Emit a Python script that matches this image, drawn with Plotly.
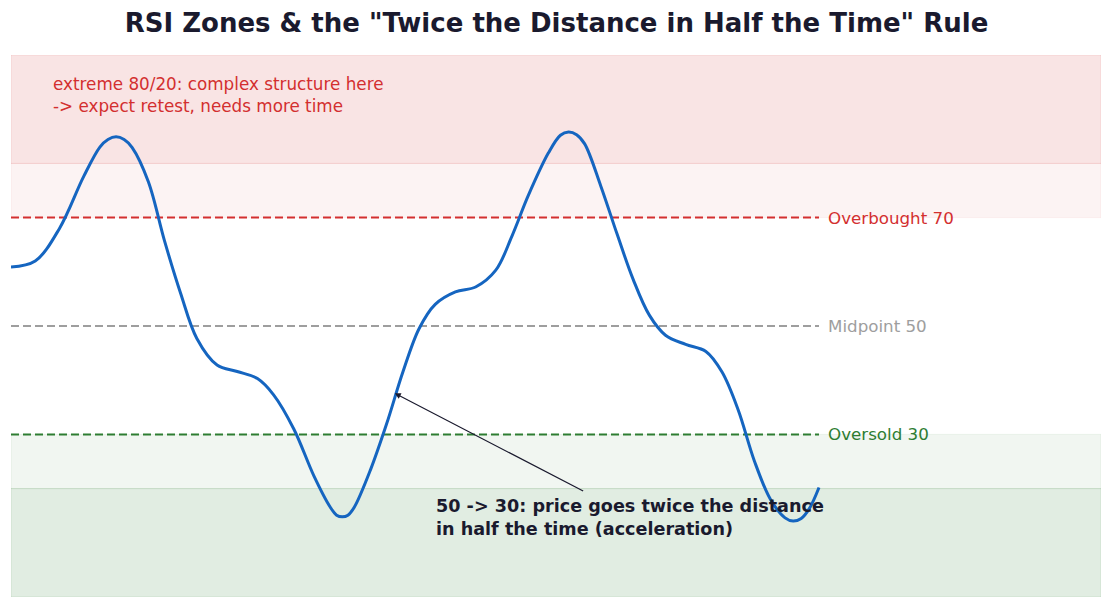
import plotly.graph_objects as go

# RSI curve (key points, drawn with the library's spline)
t = [0, 3, 6, 9, 11, 12, 13, 14, 15, 17, 19, 21, 23, 25.5, 28, 30.5, 32.5, 35, 37.5, 39.5,
     40.3, 41, 41.7, 42.5, 44.5, 46.5, 48.5, 50.5, 52.5, 55, 57.5, 60, 62, 64, 66.5, 68, 69,
     70, 71, 73, 75, 77, 79, 81, 83.5, 86, 88, 90, 92, 94, 95.8, 96.8, 97.8, 98.8, 100]
rsi = [60.9, 62.0, 68.0, 77.6, 83.0, 84.4, 84.9, 84.4, 82.9, 76.6, 65.7, 56.0, 47.7, 42.8,
       41.6, 40.3, 37.3, 31.0, 22.3, 16.6, 15.1, 14.8, 15.1, 16.6, 23.5, 32.0, 41.5, 49.5,
       54.0, 56.3, 57.2, 60.3, 66.6, 74.0, 81.9, 85.2, 85.8, 85.3, 83.6, 75.8, 67.0, 58.6,
       52.0, 48.3, 46.6, 45.3, 41.5, 34.5, 25.1, 18.0, 14.6, 14.0, 14.5, 16.3, 20.2]

levels = [70, 50, 30]
level_labels = ["Overbought 70", "Midpoint 50", "Oversold 30"]
level_colors = ["#d32f2f", "#9e9e9e", "#2e7d32"]

bands = [(80, 100), (70, 80), (20, 30), (0, 20)]
band_fills = ["rgba(211,47,47,0.13)", "rgba(211,47,47,0.06)",
              "rgba(46,125,50,0.065)", "rgba(46,125,50,0.14)"]
band_lines = ["rgba(211,47,47,0.10)", "rgba(211,47,47,0.06)",
              "rgba(46,125,50,0.08)", "rgba(46,125,50,0.12)"]

X_MAX = 134.9
FONT = "DejaVu Sans"

fig = go.Figure()

for (y0, y1), fc, lc in zip(bands, band_fills, band_lines):
    fig.add_shape(type="rect", xref="x", yref="y", x0=0, x1=X_MAX, y0=y0, y1=y1,
                  fillcolor=fc, line=dict(color=lc, width=1), layer="below")

for lv, lab, col in zip(levels, level_labels, level_colors):
    fig.add_trace(go.Scatter(x=[0, 100], y=[lv, lv], mode="lines",
                             line=dict(color=col, width=2, dash="8px,4px"),
                             hoverinfo="skip", showlegend=False))
    fig.add_annotation(x=100.9, y=lv, text=lab, showarrow=False, xanchor="left",
                       yanchor="middle", font=dict(family=FONT, size=16.7, color=col))

fig.add_trace(go.Scatter(x=t, y=rsi, mode="lines",
                         line=dict(color="#1565c0", width=3, shape="spline", smoothing=1.0),
                         showlegend=False))

fig.add_annotation(x=4.9, y=96.8, xanchor="left", yanchor="top", align="left",
                   text="extreme 80/20: complex structure here<br>-> expect retest, needs more time",
                   showarrow=False, font=dict(family=FONT, size=16.8, color="#d32f2f"))

# arrow
fig.add_annotation(x=47.5, y=37.6, ax=71.0, ay=19.4, xref="x", yref="y", axref="x", ayref="y",
                   text="", showarrow=True, arrowhead=2, arrowsize=1, arrowwidth=1.2,
                   arrowcolor="#1a1a2e")
fig.add_annotation(x=52.4, y=19.0, xanchor="left", yanchor="top", align="left",
                   text="<b>50 -> 30: price goes twice the distance<br>in half the time (acceleration)</b>",
                   showarrow=False, font=dict(family=FONT, size=17.6, color="#1a1a2e"))

fig.update_layout(
    width=1113, height=608,
    margin=dict(l=11, r=12, t=55, b=11),
    paper_bgcolor="white", plot_bgcolor="white",
    title=dict(text="<b>RSI Zones & the \"Twice the Distance in Half the Time\" Rule</b>",
               x=0.5, xanchor="center", y=1 - 23 / 608, yanchor="middle",
               font=dict(family=FONT, size=26, color="#1a1a2e")),
    xaxis=dict(range=[0, X_MAX], visible=False),
    yaxis=dict(range=[0, 100], visible=False),
)

fig.write_html("out.html")
